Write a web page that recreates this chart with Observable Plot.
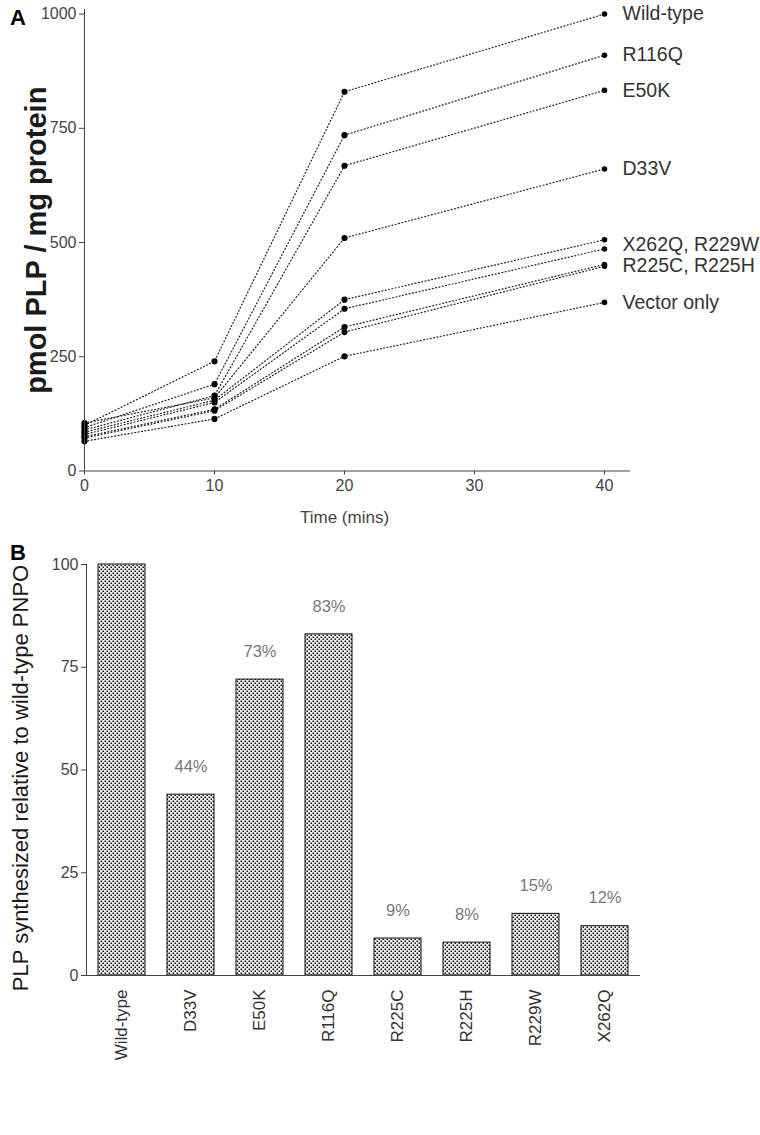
<!DOCTYPE html>
<html><head><meta charset="utf-8">
<script src="https://cdn.jsdelivr.net/npm/d3@7"></script>
<script src="https://cdn.jsdelivr.net/npm/@observablehq/plot@0.6"></script>
<style>
body{margin:0;background:#fff;font-family:"Liberation Sans",Arial,sans-serif;}
#wrap{position:relative;width:760px;height:1135px;overflow:hidden;}
.panel{position:absolute;font-weight:bold;font-size:22px;color:#000;}
svg{display:block;}
#top g[aria-label="y-axis label"]{font-size:29px;font-weight:bold;fill:#1a1a1a;}
</style></head><body>
<div id="wrap">
  <div class="panel" style="left:10px;top:5px">A</div>
  <div class="panel" style="left:10px;top:540px">B</div>
  <div id="top"></div>
  <div id="bottom"></div>
</div>
<script>
// ---------- Panel A data ----------
const times = [0, 10, 20, 40];
const seriesNames = ["Wild-type", "R116Q", "E50K", "D33V", "X262Q", "R229W", "R225C", "R225H", "Vector only"];
const wildType   = [100, 240, 830, 1000];
const r116q      = [95, 190, 735, 910];
const e50k       = [90, 165, 668, 833];
const d33v       = [105, 160, 510, 661];
const x262q      = [85, 155, 375, 506];
const r229w      = [80, 150, 355, 486];
const r225c      = [75, 135, 315, 452];
const r225h      = [72, 132, 304, 448];
const vectorOnly = [65, 114, 251, 369];
const seriesValues = [wildType, r116q, e50k, d33v, x262q, r229w, r225c, r225h, vectorOnly];
const endLabels = ["Wild-type", "R116Q", "E50K", "D33V", "X262Q, R229W", "R225C, R225H", "Vector only"];
const endLabelGroups = [[0], [1], [2], [3], [4, 5], [6, 7], [8]];
const yTicksA = [0, 250, 500, 750, 1000];
const xTicksA = [0, 10, 20, 30, 40];

// ---------- Panel B data ----------
const genotypes = ["Wild-type", "D33V", "E50K", "R116Q", "R225C", "R225H", "R229W", "X262Q"];
const percentSynth = [100, 44, 72, 83, 9, 8, 15, 12];
const percentLabels = ["", "44%", "73%", "83%", "9%", "8%", "15%", "12%"];
const yTicksB = [0, 25, 50, 75, 100];

// ---------- build tables ----------
const rows = [];
seriesNames.forEach((s, i) => times.forEach((t, j) => rows.push({series: s, time: t, value: seriesValues[i][j]})));
const lastT = times[times.length - 1];
const labelRows = endLabels.map((lab, k) => ({
  label: lab,
  value: d3.mean(endLabelGroups[k], i => seriesValues[i][times.length - 1])
}));
const bars = genotypes.map((g, i) => ({g, v: percentSynth[i], lab: percentLabels[i]}));

const font = "'Liberation Sans', Arial, sans-serif";

const topPlot = Plot.plot({
  width: 760, height: 540,
  marginLeft: 84, marginRight: 130, marginTop: 9, marginBottom: 69.5,
  style: {fontFamily: font, fontSize: "16px", color: "#444", background: "white"},
  x: {domain: [0, 42]},
  y: {domain: [0, 1010]},
  marks: [
    Plot.line(rows, {x: "time", y: "value", z: "series", stroke: "#222", strokeWidth: 1.2, strokeDasharray: "1,2.4"}),
    Plot.dot(rows, {x: "time", y: "value", r: d => d.time === lastT ? 2.6 : 3.2, fill: "#000", stroke: "none"}),
    Plot.text(labelRows, {x: () => lastT, y: "value", text: "label", textAnchor: "start", dx: 18, fontSize: 19.5, fill: "#333"}),
    Plot.ruleY([0], {stroke: "#444"}),
    Plot.ruleX([0], {stroke: "#444"}),
    Plot.axisY({ticks: yTicksA, tickSize: 5, tickPadding: 3, tickFormat: d => String(d),
      label: "pmol PLP / mg protein", labelAnchor: "center", labelOffset: 59, labelArrow: "none"}),
    Plot.axisX({ticks: xTicksA, tickSize: 4, tickPadding: 5, label: null}),
    Plot.text(["Time (mins)"], {x: () => times[2], frameAnchor: "bottom", dy: 52, fontSize: 17, fill: "#444"})
  ]
});
document.getElementById("top").appendChild(topPlot);

const bottomPlot = Plot.plot({
  width: 760, height: 595,
  marginLeft: 86, marginRight: 120, marginTop: 24, marginBottom: 160,
  style: {fontFamily: font, fontSize: "16px", color: "#444", background: "white"},
  x: {domain: genotypes, paddingInner: 0.325, paddingOuter: 0.1425},
  y: {domain: [0, 100]},
  marks: [
    Plot.barY(bars, {x: "g", y: "v", fill: "url(#dotpattern)", stroke: "#111", strokeWidth: 1}),
    Plot.text(bars, {x: "g", y: "v", text: "lab", dy: -28, fontSize: 16.5, fill: "#777"}),
    Plot.ruleY([0], {stroke: "#444"}),
    Plot.frame({anchor: "left", stroke: "#444"}),
    Plot.axisY({ticks: yTicksB, tickSize: 5, tickPadding: 3, label: null}),
    Plot.text(["PLP synthesized relative to wild-type PNPO"], {frameAnchor: "left", rotate: -90, dx: -66, dy: 8,
      textAnchor: "middle", fontSize: 22, fill: "#1a1a1a", lineAnchor: "middle"}),
    Plot.axisX({tickRotate: -90, tickSize: 0, tickPadding: 14, label: null, fontSize: 17, fill: "#333"})
  ]
});
const ns = "http://www.w3.org/2000/svg";
const defs = document.createElementNS(ns, "defs");
defs.innerHTML = '<pattern id="dotpattern" width="4" height="4" patternUnits="userSpaceOnUse">' +
  '<rect width="4" height="4" fill="#f2f2f2"/>' +
  '<rect x="0.5" y="0.5" width="1.6" height="1.6" fill="#111"/>' +
  '<rect x="2.5" y="2.5" width="1.6" height="1.6" fill="#111"/></pattern>';
bottomPlot.insertBefore(defs, bottomPlot.firstChild);
document.getElementById("bottom").appendChild(bottomPlot);
</script>
</body></html>
